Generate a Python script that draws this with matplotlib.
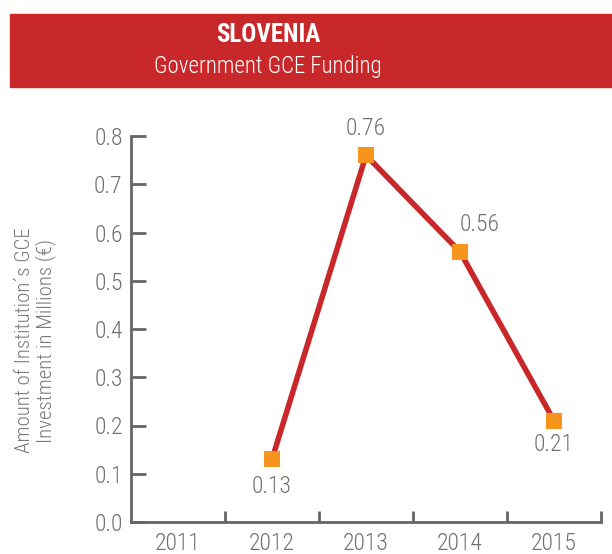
import matplotlib
matplotlib.use("Agg")
import matplotlib.pyplot as plt
from matplotlib import font_manager
from matplotlib.patches import Rectangle

# Data
years = ["2011", "2012", "2013", "2014", "2015"]
funding = [None, 0.13, 0.76, 0.56, 0.21]
y_ticks = [0.0, 0.1, 0.2, 0.3, 0.4, 0.5, 0.6, 0.7, 0.8]
country = "SLOVENIA"
subtitle = "Government GCE Funding"
y_label = "Amount of Institution´s GCE\nInvestment in Millions (€)"

# Prefer a narrow sans face when available
available = {f.name for f in font_manager.fontManager.ttflist}
families = [f for f in ["Roboto Condensed", "Liberation Sans Narrow", "Roboto", "DejaVu Sans"] if f in available]
plt.rcParams["font.family"] = families + ["DejaVu Sans"]

RED = "#C9282A"
ORANGE = "#F7941D"
GRAY = "#666666"
TEXT = "#707070"

W, H = 612, 554
fig = plt.figure(figsize=(W / 100, H / 100), dpi=100)

# Header banner
fig.patches.append(Rectangle((10 / W, 1 - 87 / H), (W - 10) / W, 73 / H,
                             transform=fig.transFigure, color=RED, zorder=0))
fig.text(268 / W, 1 - 35 / H, country, color="white", fontsize=18,
         fontweight="bold", ha="center", va="center")
fig.text(268 / W, 1 - 67 / H, subtitle, color="white", fontsize=16.5,
         fontweight="light", ha="center", va="center")

# Axes area
left, right, top, bottom = 131, 601, 136, 522
ax = fig.add_axes([left / W, 1 - bottom / H, (right - left) / W, (bottom - top) / H])

xs = [i for i, v in enumerate(funding) if v is not None]
vals = [v for v in funding if v is not None]
ax.plot(xs, vals, color=RED, linewidth=4, zorder=2, solid_capstyle="butt")
ax.plot(xs, vals, linestyle="none", marker="s", markersize=11,
        color=ORANGE, markeredgewidth=0, zorder=3)

ax.set_xlim(-0.5, len(years) - 0.5)
ax.set_ylim(0, 0.8)

# Category labels centred, tick marks at category boundaries
ax.set_xticks(range(len(years)))
ax.set_xticklabels(years, fontweight="light")
ax.set_xticks([i + 0.5 for i in range(len(years))], minor=True)
ax.tick_params(axis="x", which="major", length=0, pad=7, labelsize=17, labelcolor=TEXT)
ax.tick_params(axis="x", which="minor", direction="in", length=8, width=2, color=GRAY)

ax.set_yticks(y_ticks)
ax.set_yticklabels([f"{t:.1f}" for t in y_ticks], fontweight="light")
ax.tick_params(axis="y", direction="in", length=11, width=2, color=GRAY,
               pad=6, labelsize=17, labelcolor=TEXT)

for side in ("top", "right"):
    ax.spines[side].set_visible(False)
for side in ("left", "bottom"):
    ax.spines[side].set_color(GRAY)
    ax.spines[side].set_linewidth(2)

ax.set_ylabel(y_label, fontsize=15, color="#7a7a7a",
              linespacing=1.05, fontweight="light")
ax.yaxis.set_label_coords(-0.16, 0.47)

# Value annotations
offsets = {1: (0, -27), 2: (0, 27), 3: (20, 27), 4: (0, -24)}
for i, v in zip(xs, vals):
    dx, dy = offsets[i]
    ax.annotate(f"{v:.2f}", (i, v), xytext=(dx * 0.72, dy * 0.72),
                textcoords="offset points", ha="center", va="center",
                fontsize=17, color=TEXT, fontweight="light")

fig.savefig("out.png", dpi=100)
